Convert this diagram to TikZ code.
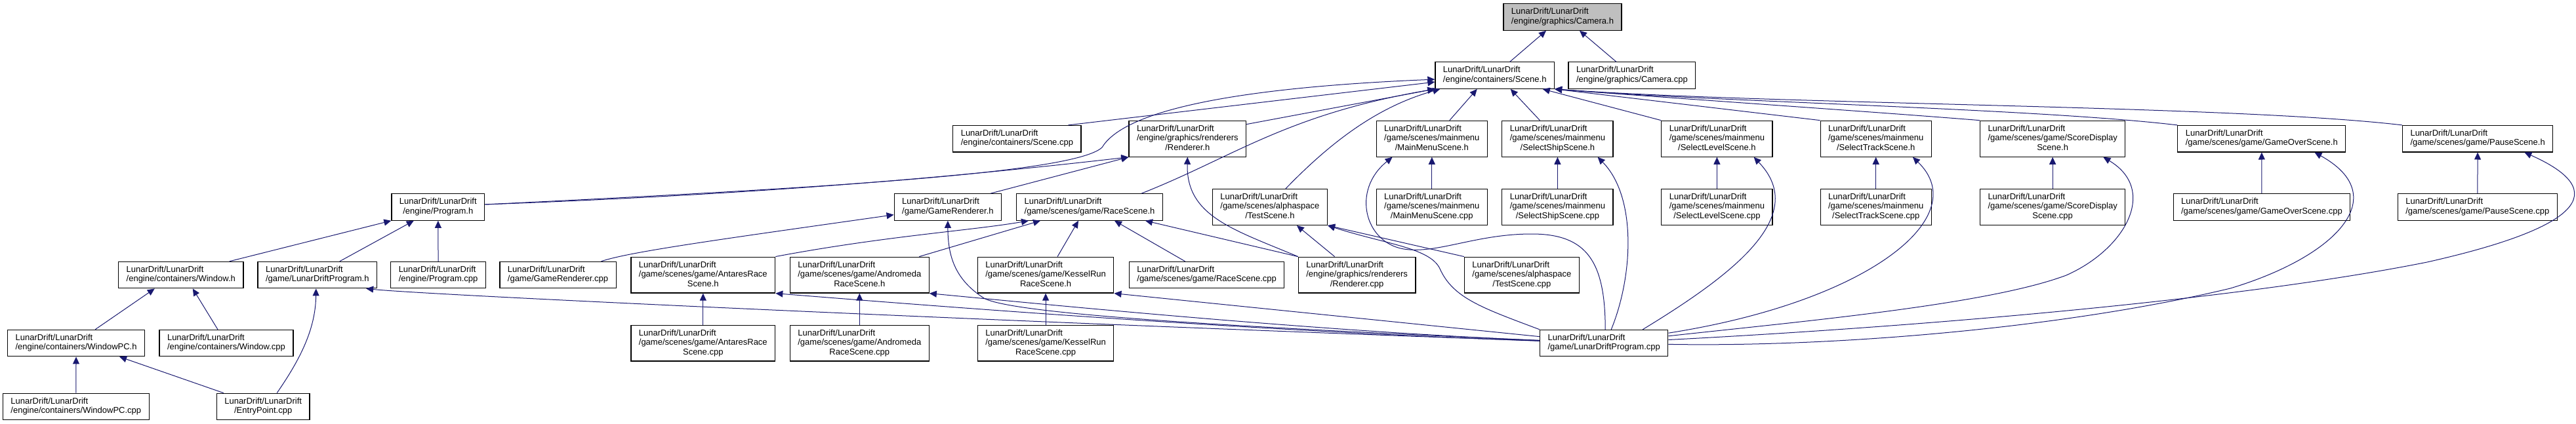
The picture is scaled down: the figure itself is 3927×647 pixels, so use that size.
\documentclass[tikz,border=0pt]{standalone}
\usepackage{fontspec}
\setmainfont{Liberation Sans}
\usetikzlibrary{arrows.meta}
\definecolor{MidnightBlue}{HTML}{191970}
\tikzset{file/.style = {draw, fill=white, line width=0.6pt, inner xsep=6pt,
                        inner ysep=2.85pt, font=\fontsize{6.5}{7.25}\selectfont}}
\tikzset{incl/.style = {draw=MidnightBlue, line width=0.5pt,
                        -{Triangle[length=5.5pt,width=5pt]}}}
\newcommand{\ldf}[1]{\begin{tabular}{@{}c@{}}\multicolumn{1}{@{}l@{}}{LunarDrift/LunarDrift}\\#1\end{tabular}}

\begin{document}
\begin{tikzpicture}[x=0.5pt,y=-0.5pt]
    \fill[white] (0,0) rectangle (3927,647);
    \useasboundingbox (0,0) rectangle (3927,647);
    % files
    \node[file, fill=gray!50] (camerah) at (2382,26) {\ldf{/engine/graphics/Camera.h}};
    \node[file] (sceneh) at (2278.7,115.1) {\ldf{/engine/containers/Scene.h}};
    \node[file] (cameracpp) at (2487.9,115.1) {\ldf{/engine/graphics/Camera.cpp}};
    \node[file] (scenecpp) at (1550.4,211.7) {\ldf{/engine/containers/Scene.cpp}};
    \node[file] (rendererh) at (1810.3,211.7) {\ldf{/engine/graphics/renderers\\/Renderer.h}};
    \node[file] (mainmenuh) at (2182.8,211.7) {\ldf{/game/scenes/mainmenu\\/MainMenuScene.h}};
    \node[file] (selshiph) at (2374.4,211.7) {\ldf{/game/scenes/mainmenu\\/SelectShipScene.h}};
    \node[file] (sellevelh) at (2617.4,211.7) {\ldf{/game/scenes/mainmenu\\/SelectLevelScene.h}};
    \node[file] (seltrackh) at (2859.7,211.7) {\ldf{/game/scenes/mainmenu\\/SelectTrackScene.h}};
    \node[file] (scoreh) at (3129.1,211.7) {\ldf{/game/scenes/game/ScoreDisplay\\Scene.h}};
    \node[file] (gameoverh) at (3447.8,211.7) {\ldf{/game/scenes/game/GameOverScene.h}};
    \node[file] (pauseh) at (3777.1,211.7) {\ldf{/game/scenes/game/PauseScene.h}};
    \node[file] (programh) at (667.8,316) {\ldf{/engine/Program.h}};
    \node[file] (gamerendh) at (1444.9,316) {\ldf{/game/GameRenderer.h}};
    \node[file] (racesceneh) at (1661,316) {\ldf{/game/scenes/game/RaceScene.h}};
    \node[file] (testsceneh) at (1935.9,316) {\ldf{/game/scenes/alphaspace\\/TestScene.h}};
    \node[file] (mainmenucpp) at (2182.8,316) {\ldf{/game/scenes/mainmenu\\/MainMenuScene.cpp}};
    \node[file] (selshipcpp) at (2374.4,316) {\ldf{/game/scenes/mainmenu\\/SelectShipScene.cpp}};
    \node[file] (sellevelcpp) at (2617.4,316) {\ldf{/game/scenes/mainmenu\\/SelectLevelScene.cpp}};
    \node[file] (seltrackcpp) at (2859.7,316) {\ldf{/game/scenes/mainmenu\\/SelectTrackScene.cpp}};
    \node[file] (scorecpp) at (3129.1,316) {\ldf{/game/scenes/game/ScoreDisplay\\Scene.cpp}};
    \node[file] (gameovercpp) at (3447.9,316) {\ldf{/game/scenes/game/GameOverScene.cpp}};
    \node[file] (pausecpp) at (3776.8,316) {\ldf{/game/scenes/game/PauseScene.cpp}};
    \node[file] (windowh) at (275.8,419.6) {\ldf{/engine/containers/Window.h}};
    \node[file] (ldprogh) at (483.8,419.6) {\ldf{/game/LunarDriftProgram.h}};
    \node[file] (programcpp) at (668.1,419.6) {\ldf{/engine/Program.cpp}};
    \node[file] (gamerendcpp) at (850.5,419.6) {\ldf{/game/GameRenderer.cpp}};
    \node[file] (antaresh) at (1071.8,419.6) {\ldf{/game/scenes/game/AntaresRace\\Scene.h}};
    \node[file] (andromedah) at (1310.3,419.6) {\ldf{/game/scenes/game/Andromeda\\RaceScene.h}};
    \node[file] (kesselh) at (1594.1,419.6) {\ldf{/game/scenes/game/KesselRun\\RaceScene.h}};
    \node[file] (racescenecpp) at (1839.6,419.6) {\ldf{/game/scenes/game/RaceScene.cpp}};
    \node[file] (renderercpp) at (2068.6,419.6) {\ldf{/engine/graphics/renderers\\/Renderer.cpp}};
    \node[file] (testscenecpp) at (2319.9,419.6) {\ldf{/game/scenes/alphaspace\\/TestScene.cpp}};
    \node[file] (windowpch) at (116.1,523.6) {\ldf{/engine/containers/WindowPC.h}};
    \node[file] (windowcpp) at (345,523.6) {\ldf{/engine/containers/Window.cpp}};
    \node[file] (antarescpp) at (1071.8,523.6) {\ldf{/game/scenes/game/AntaresRace\\Scene.cpp}};
    \node[file] (andromedacpp) at (1310.3,523.6) {\ldf{/game/scenes/game/Andromeda\\RaceScene.cpp}};
    \node[file] (kesselcpp) at (1594.1,523.6) {\ldf{/game/scenes/game/KesselRun\\RaceScene.cpp}};
    \node[file] (ldprogcpp) at (2445.2,523.6) {\ldf{/game/LunarDriftProgram.cpp}};
    \node[file] (windowpccpp) at (115.8,620.4) {\ldf{/engine/containers/WindowPC.cpp}};
    \node[file] (entrypoint) at (401.2,620.4) {\ldf{/EntryPoint.cpp}};

    % Camera.h
    \draw[incl] ([xshift=11.5pt]sceneh.north) -- ([xshift=-12.5pt]camerah.south);
    \draw[incl] ([xshift=-12pt]cameracpp.north) -- ([xshift=13pt]camerah.south);

    % Scene.h
    \draw[incl] ([xshift=39pt]scenecpp.north) -- ([yshift=-5pt]sceneh.west);
    \draw[incl] ([yshift=2pt]programh.east) .. controls (1300,285) and (1640,262) .. (1680,225)
                .. controls (1710,175) and (1850,135) .. ([yshift=-3pt]sceneh.west);
    \draw[incl] ([yshift=-3pt]rendererh.north east) -- (sceneh.south west);
    \draw[incl] ([xshift=39.5pt]racesceneh.north) .. controls (1880,240) and (1960,175) .. (sceneh.south west);
    \draw[incl] ([xshift=12pt]testsceneh.north) .. controls (2040,205) and (2110,160) .. ([xshift=4pt]sceneh.south west);
    \draw[incl] ([xshift=13.5pt]mainmenuh.north) -- ([xshift=-13.5pt]sceneh.south);
    \draw[incl] ([xshift=-13.5pt]selshiph.north) -- ([xshift=12pt]sceneh.south);
    \draw[incl] (sellevelh.north west) -- ([xshift=36.5pt]sceneh.south);
    \draw[incl] (seltrackh.north west) -- (sceneh.south east);
    \draw[incl] (scoreh.north west) .. controls (2850,170) and (2550,150) .. (sceneh.south east);
    \draw[incl] (gameoverh.north west) .. controls (3100,165) and (2600,155) .. (sceneh.south east);
    \draw[incl] (pauseh.north west) .. controls (3400,160) and (2700,160) .. (sceneh.south east);

    % Renderer.h
    \draw[incl] ([yshift=2pt]programh.east) .. controls (1200,295) and (1500,265) .. (rendererh.south west);
    \draw[incl] ([xshift=32.5pt]gamerendh.north) -- (rendererh.south west);
    \draw[incl] (renderercpp.north west) .. controls (1880,350) and (1808,330) .. (rendererh.south);

    % Program.h
    \draw[incl] ([xshift=37pt]windowh.north) -- (programh.south west);
    \draw[incl] ([xshift=17pt]ldprogh.north) -- ([xshift=-18.5pt]programh.south);
    \draw[incl] (programcpp) -- (programh);

    % GameRenderer.h
    \draw[incl] ([xshift=33pt]gamerendcpp.north) .. controls (960,384) and (1100,365) .. (gamerendh);
    \draw[incl] (ldprogcpp) .. controls (1900,500) and (1545,480) .. (1500,455)
                .. controls (1455,426) and (1445,390) .. (gamerendh.south);

    % RaceScene.h
    \draw[incl] (antaresh.north east) .. controls (1350,360) and (1480,352) .. ([xshift=-46.5pt]racesceneh.south);
    \draw[incl] ([xshift=45.5pt]andromedah.north) -- ([xshift=-37.5pt]racesceneh.south);
    \draw[incl] ([xshift=9pt]kesselh.north) -- ([xshift=-8.5pt]racesceneh.south);
    \draw[incl] ([xshift=-16.5pt]racescenecpp.north) -- ([xshift=19pt]racesceneh.south);
    \draw[incl] (renderercpp.north west) -- ([xshift=42.5pt]racesceneh.south);

    % TestScene.h
    \draw[incl] ([xshift=-17pt]renderercpp.north) -- ([xshift=20.5pt]testsceneh.south);
    \draw[incl] (testscenecpp.north west) -- (testsceneh.south east);
    \draw[incl] (ldprogcpp.north west) .. controls (2260,470) and (2215,455) .. (2195,410)
                .. controls (2180,378) and (2110,372) .. (testsceneh.south east);

    % .cpp below its header
    \foreach \a/\b in {mainmenucpp/mainmenuh, selshipcpp/selshiph, sellevelcpp/sellevelh,
                       seltrackcpp/seltrackh, scorecpp/scoreh, gameovercpp/gameoverh,
                       pausecpp/pauseh, antarescpp/antaresh, andromedacpp/andromedah,
                       kesselcpp/kesselh, windowpccpp/windowpch} {
        \draw[incl] (\a) -- (\b);
    }

    % LunarDriftProgram.cpp
    \draw[incl] ([xshift=1pt]ldprogcpp.north) .. controls (2447,400) and (2420,357) .. (2335,357)
                .. controls (2250,357) and (2190,388) .. (2140,380)
                .. controls (2080,370) and (2060,290) .. ([xshift=12.5pt]mainmenuh.south west);
    \draw[incl] ([xshift=5.5pt]ldprogcpp.north) .. controls (2490,420) and (2495,300) .. ([xshift=-12pt]selshiph.south east);
    \draw[incl] ([xshift=29.5pt]ldprogcpp.north) .. controls (2640,420) and (2760,330) .. ([xshift=-14.5pt]sellevelh.south east);
    \draw[incl] (ldprogcpp) .. controls (2850,460) and (3010,330) .. ([xshift=-14.5pt]seltrackh.south east);
    \draw[incl] (ldprogcpp) .. controls (2750,490) and (3030,465) .. (3150,420)
                .. controls (3240,380) and (3290,290) .. ([xshift=-17pt]scoreh.south east);
    \draw[incl] (ldprogcpp) .. controls (2800,530) and (3150,500) .. (3400,440)
                .. controls (3560,392) and (3650,300) .. ([xshift=-24pt]gameoverh.south east);
    \draw[incl] (ldprogcpp) .. controls (2900,500) and (3400,460) .. (3700,400)
                .. controls (3900,355) and (4000,300) .. ([xshift=-22pt]pauseh.south east);
    \draw[incl] (ldprogcpp) .. controls (1500,490) and (650,450) .. ([xshift=-8.5pt]ldprogh.south east);
    \draw[incl] (ldprogcpp) .. controls (1900,505) and (1400,465) .. (antaresh.south east);
    \draw[incl] (ldprogcpp) .. controls (2000,505) and (1600,465) .. (andromedah.south east);
    \draw[incl] (ldprogcpp) -- (kesselh.south east);

    % Window and entry point
    \draw[incl] ([xshift=10.5pt]entrypoint.north) .. controls (460,545) and (481,500) .. ([xshift=-1pt]ldprogh.south);
    \draw[incl] ([xshift=14.5pt]windowpch.north) -- ([xshift=-20pt]windowh.south);
    \draw[incl] ([xshift=-6.5pt]windowcpp.north) -- ([xshift=9pt]windowh.south);
    \draw[incl] ([xshift=5.5pt]entrypoint.north west) -- ([xshift=33pt]windowpch.south);
\end{tikzpicture}
\end{document}
